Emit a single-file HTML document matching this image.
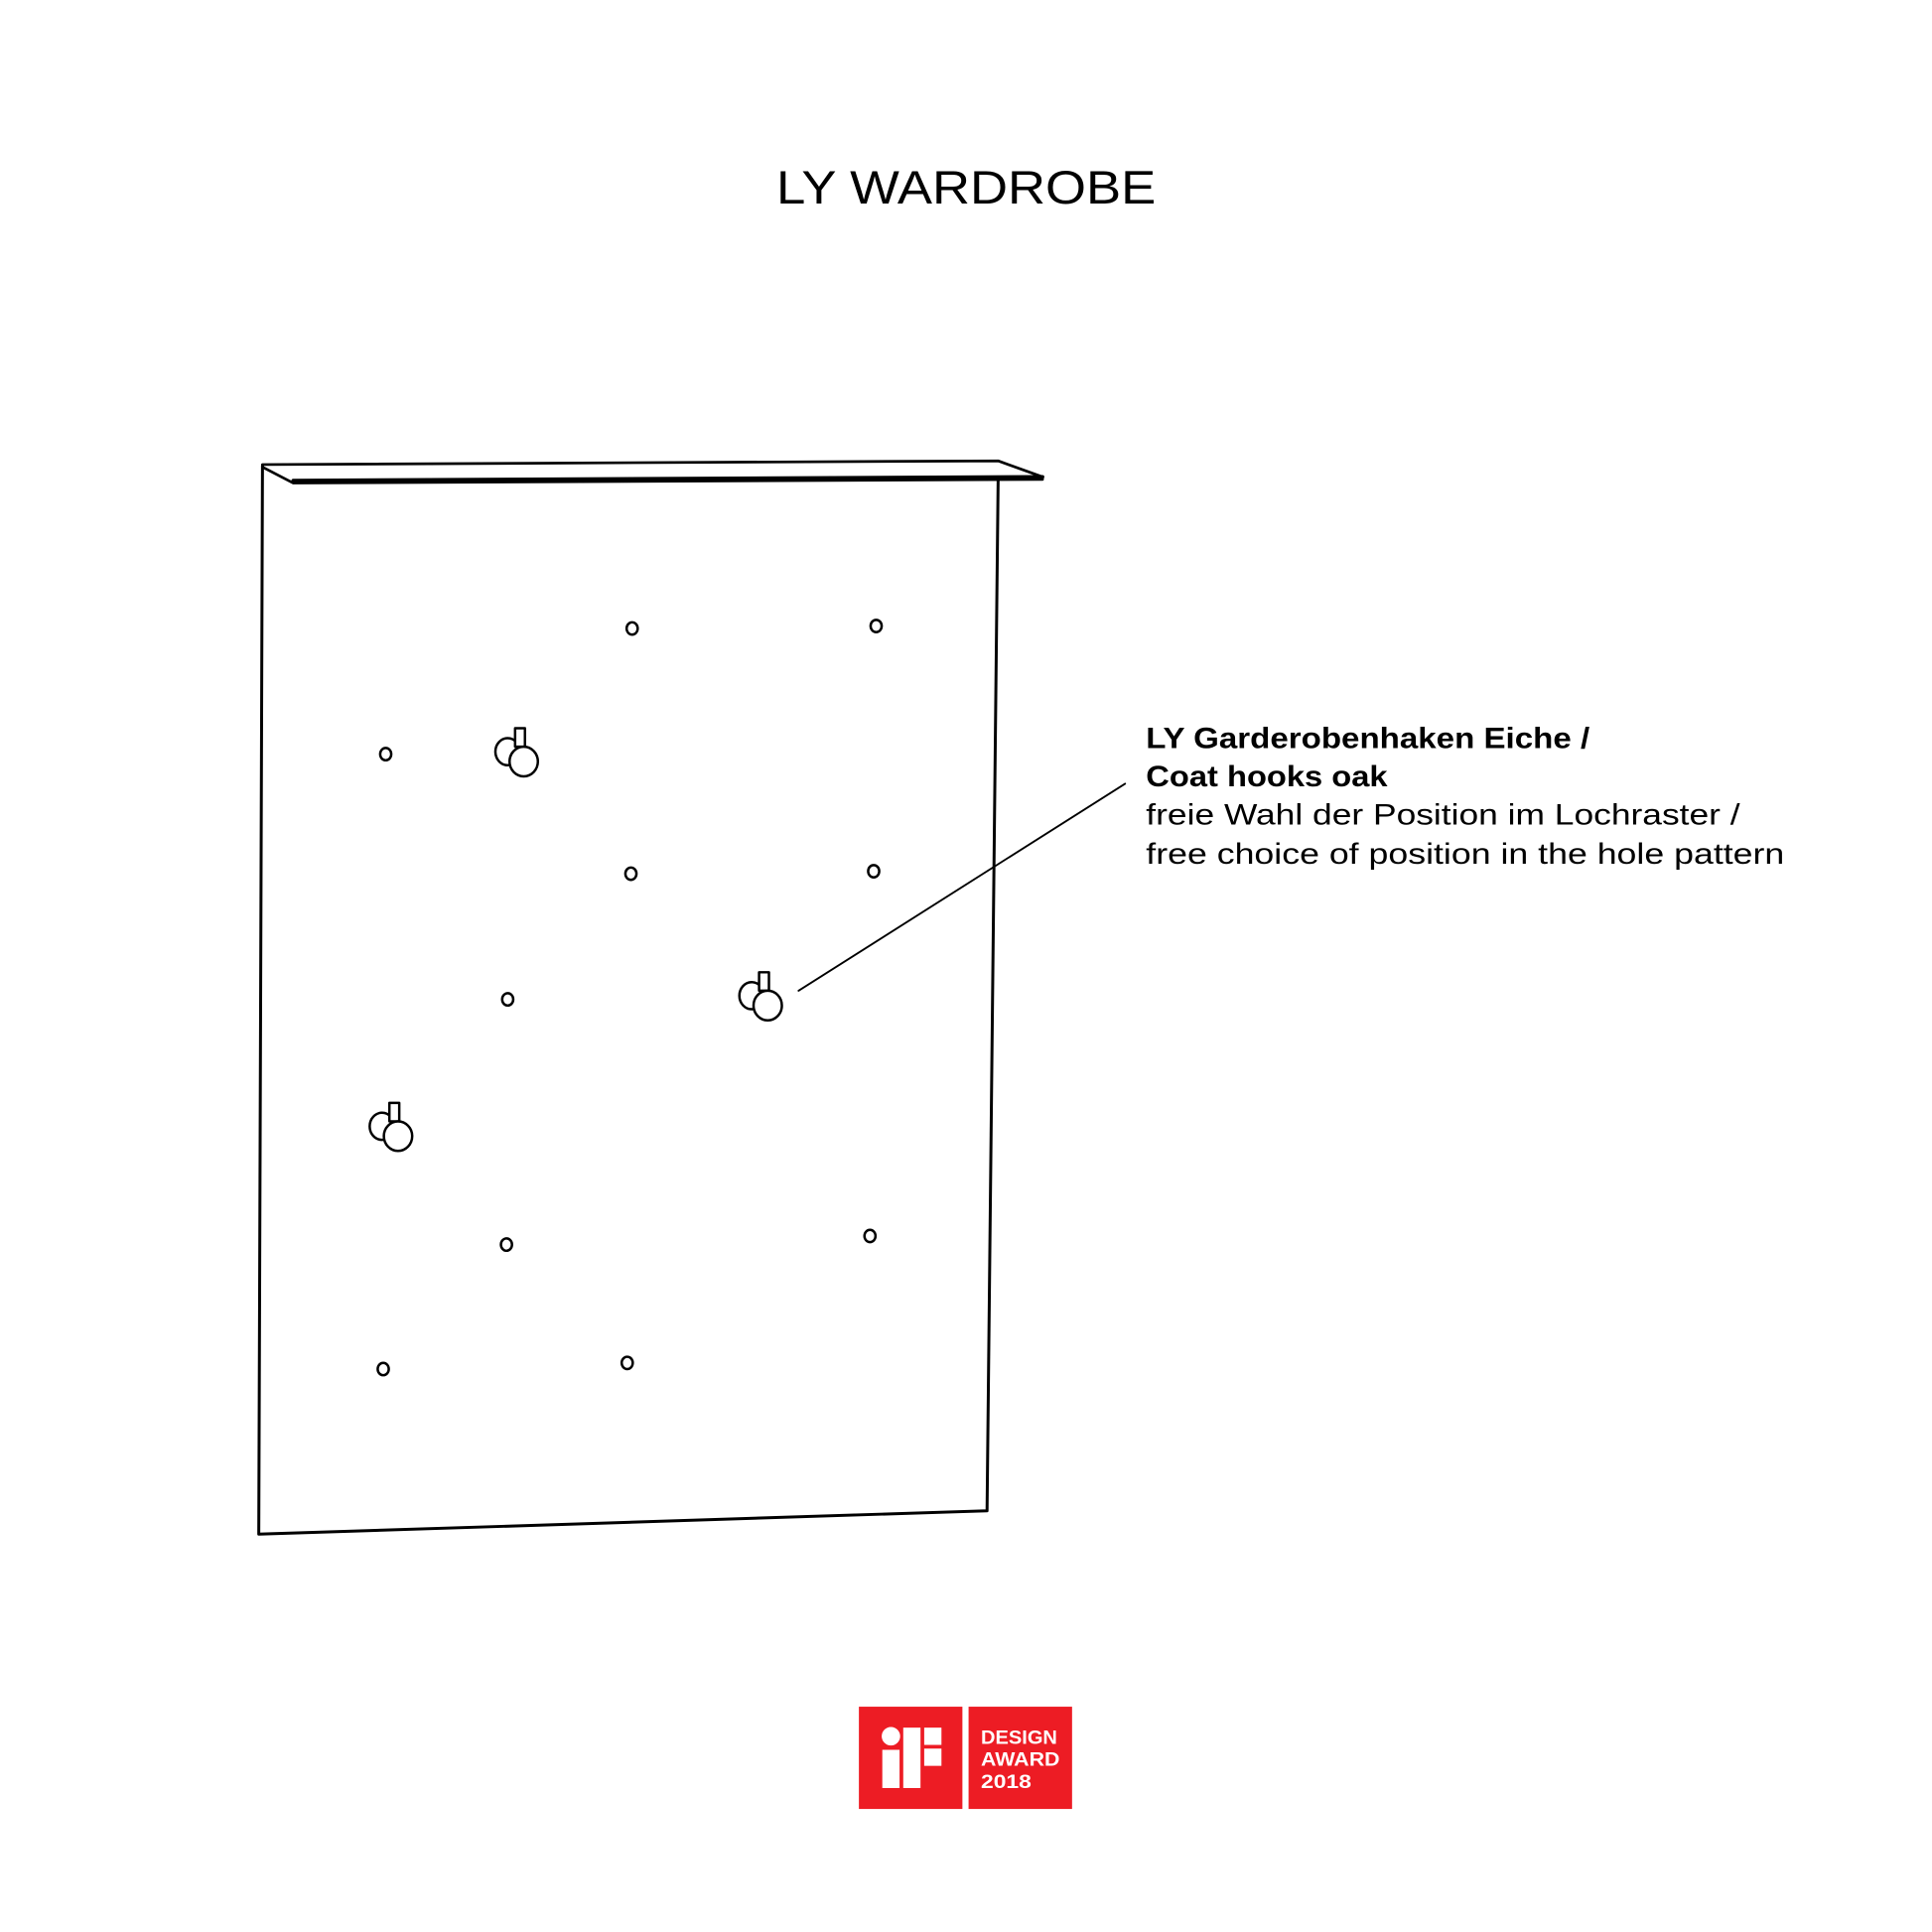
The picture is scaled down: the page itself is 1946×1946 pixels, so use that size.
<!DOCTYPE html>
<html><head><meta charset="utf-8"><style>html,body{margin:0;padding:0;background:#fff}svg{display:block}</style></head>
<body>
<svg width="1946" height="1946" viewBox="0 0 1946 1946" xmlns="http://www.w3.org/2000/svg">
<g transform="scale(1.2412)" font-family="Liberation Sans, sans-serif" fill="none" stroke="#000" stroke-linejoin="round" stroke-linecap="round">
<text x="630" y="165" font-size="38" fill="#000" stroke="none" textLength="308" lengthAdjust="spacingAndGlyphs">LY WARDROBE</text>
<!-- shelf -->
<path d="M213,377 L810,374 L846,387 L846,389 L238,392 L213,379 Z" stroke-width="2.2"/>
<line x1="238" y1="390" x2="846" y2="387" stroke-width="3"/>
<!-- panel -->
<path d="M213,378 L210,1245 L801,1226 L810,389" stroke-width="2.4"/>
<!-- holes -->
<g stroke-width="2">
<ellipse cx="513" cy="510" rx="4.5" ry="5"/>
<ellipse cx="711" cy="508" rx="4.5" ry="5"/>
<ellipse cx="313" cy="612" rx="4.5" ry="5"/>
<ellipse cx="512" cy="709" rx="4.5" ry="5"/>
<ellipse cx="709" cy="707" rx="4.5" ry="5"/>
<ellipse cx="412" cy="811" rx="4.5" ry="5"/>
<ellipse cx="411" cy="1010" rx="4.5" ry="5"/>
<ellipse cx="706" cy="1003" rx="4.5" ry="5"/>
<ellipse cx="311" cy="1111" rx="4.5" ry="5"/>
<ellipse cx="509" cy="1106" rx="4.5" ry="5"/>
</g>
<!-- hooks -->
<g id="h" stroke-width="2" fill="#fff">
<ellipse cx="412" cy="610" rx="10" ry="11"/>
<rect x="418" y="591" width="8" height="15"/>
<ellipse cx="425" cy="618" rx="11.5" ry="12"/>
</g>
<use href="#h" transform="translate(198,198)"/>
<use href="#h" transform="translate(-102,304)"/>
<!-- leader -->
<line x1="648" y1="804" x2="913" y2="636" stroke-width="1.5"/>
<g fill="#000" stroke="none" font-size="24">
<text x="930" y="607" font-weight="bold" textLength="360" lengthAdjust="spacingAndGlyphs">LY Garderobenhaken Eiche /</text>
<text x="930" y="638" font-weight="bold" textLength="196" lengthAdjust="spacingAndGlyphs">Coat hooks oak</text>
<text x="930" y="669" textLength="482" lengthAdjust="spacingAndGlyphs">freie Wahl der Position im Lochraster /</text>
<text x="930" y="701" textLength="518" lengthAdjust="spacingAndGlyphs">free choice of position in the hole pattern</text>
</g>
<!-- logo -->
<g stroke="none">
<rect x="697" y="1385" width="84" height="83" fill="#ed1c24"/>
<rect x="786" y="1385" width="84" height="83" fill="#ed1c24"/>
<g fill="#fff">
<circle cx="723" cy="1409" r="7.5"/>
<rect x="716" y="1420" width="14" height="31"/>
<rect x="733" y="1402" width="14" height="49"/>
<rect x="750" y="1402" width="14" height="14"/>
<rect x="750" y="1419" width="14" height="14"/>
<text x="796" y="1415" font-size="16" font-weight="bold" textLength="62" lengthAdjust="spacingAndGlyphs">DESIGN</text>
<text x="796" y="1433" font-size="16" font-weight="bold" textLength="64" lengthAdjust="spacingAndGlyphs">AWARD</text>
<text x="796" y="1451" font-size="16" font-weight="bold" textLength="41" lengthAdjust="spacingAndGlyphs">2018</text>
</g>
</g>
</g>
</svg>
</body></html>
